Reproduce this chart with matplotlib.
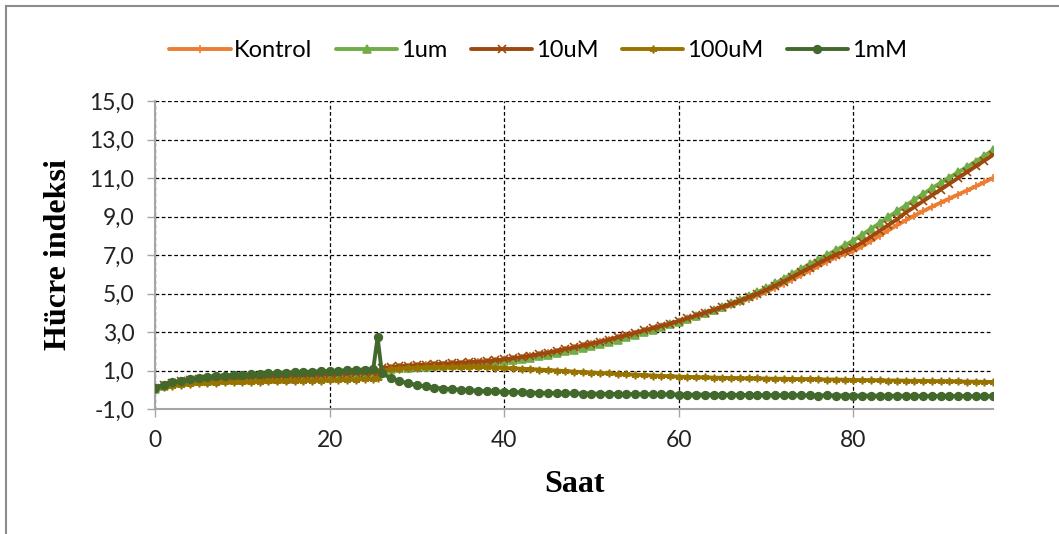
import matplotlib
matplotlib.use("Agg")
import matplotlib.pyplot as plt
from matplotlib.lines import Line2D

# ---- data ----
hours = list(range(0, 26)) + [25.5] + list(range(26, 97))

kontrol = [0.08,0.22,0.33,0.41,0.47,0.51,0.54,0.56,0.58,0.60,0.61,0.62,0.63,0.65,0.66,0.67,0.68,0.70,0.71,0.72,
           0.74,0.76,0.78,0.80,0.82,0.84,0.86,1.07,1.13,1.17,1.20,1.23,1.26,1.28,1.31,1.34,1.36,1.39,1.42,1.45,
           1.49,1.54,1.60,1.66,1.73,1.81,1.89,1.98,2.07,2.16,2.26,2.36,2.46,2.57,2.68,2.80,2.92,3.04,3.16,3.28,
           3.40,3.53,3.66,3.80,3.94,4.08,4.23,4.38,4.54,4.71,4.89,5.08,5.29,5.50,5.72,5.95,6.18,6.42,6.66,6.88,
           7.05,7.20,7.45,7.72,8.00,8.28,8.55,8.80,9.05,9.28,9.50,9.72,9.93,10.14,10.35,10.56,10.78,11.00]

um1 = [0.05,0.18,0.28,0.35,0.40,0.44,0.46,0.48,0.50,0.51,0.52,0.53,0.54,0.55,0.56,0.57,0.58,0.59,0.60,0.61,
       0.62,0.64,0.66,0.68,0.70,0.72,0.74,1.02,1.08,1.12,1.15,1.18,1.20,1.23,1.25,1.28,1.30,1.33,1.36,1.39,
       1.43,1.47,1.53,1.59,1.66,1.73,1.81,1.90,1.99,2.08,2.18,2.28,2.38,2.49,2.61,2.73,2.86,2.99,3.12,3.25,
       3.39,3.53,3.68,3.84,4.00,4.16,4.32,4.49,4.67,4.86,5.06,5.28,5.52,5.76,6.01,6.27,6.52,6.76,7.00,7.25,
       7.50,7.75,8.05,8.35,8.65,8.97,9.27,9.57,9.87,10.17,10.47,10.75,11.02,11.30,11.57,11.85,12.15,12.45]

um10 = [0.10,0.25,0.36,0.44,0.50,0.54,0.57,0.60,0.62,0.64,0.65,0.67,0.68,0.70,0.71,0.72,0.74,0.75,0.77,0.78,
        0.80,0.82,0.84,0.86,0.88,0.90,0.92,1.12,1.18,1.22,1.25,1.28,1.30,1.33,1.35,1.38,1.40,1.43,1.46,1.49,
        1.53,1.58,1.64,1.70,1.77,1.85,1.93,2.02,2.11,2.20,2.30,2.40,2.50,2.61,2.72,2.84,2.96,3.08,3.20,3.32,
        3.44,3.57,3.71,3.86,4.01,4.15,4.30,4.45,4.62,4.80,4.98,5.18,5.40,5.62,5.85,6.10,6.33,6.56,6.80,7.02,
        7.20,7.38,7.65,7.95,8.25,8.55,8.85,9.20,9.50,9.80,10.10,10.40,10.70,11.00,11.30,11.60,11.90,12.20]

um100 = [0.05,0.14,0.21,0.26,0.30,0.33,0.35,0.37,0.38,0.39,0.40,0.41,0.42,0.43,0.43,0.44,0.45,0.46,0.47,0.48,
         0.49,0.50,0.52,0.53,0.55,0.57,0.62,0.98,1.06,1.10,1.13,1.15,1.16,1.17,1.18,1.19,1.19,1.19,1.18,1.17,
         1.15,1.13,1.11,1.09,1.07,1.05,1.02,1.00,0.97,0.94,0.92,0.89,0.87,0.85,0.82,0.80,0.78,0.76,0.74,0.72,
         0.70,0.68,0.67,0.65,0.64,0.63,0.62,0.61,0.60,0.59,0.59,0.58,0.57,0.57,0.56,0.55,0.55,0.54,0.53,0.53,
         0.52,0.51,0.50,0.50,0.49,0.48,0.48,0.47,0.46,0.46,0.45,0.44,0.44,0.43,0.42,0.42,0.41,0.40]

mM1 = [0.10,0.25,0.38,0.48,0.56,0.62,0.67,0.71,0.74,0.77,0.79,0.81,0.83,0.85,0.87,0.89,0.91,0.92,0.94,0.96,
       0.97,0.99,1.01,1.03,1.05,1.07,2.72,0.85,0.62,0.45,0.33,0.24,0.17,0.11,0.06,0.03,0.00,-0.03,-0.05,-0.07,
       -0.09,-0.11,-0.12,-0.14,-0.15,-0.16,-0.17,-0.18,-0.18,-0.19,-0.20,-0.20,-0.21,-0.21,-0.22,-0.22,-0.23,-0.23,-0.24,-0.24,
       -0.24,-0.25,-0.25,-0.26,-0.25,-0.26,-0.27,-0.26,-0.27,-0.27,-0.28,-0.28,-0.28,-0.29,-0.28,-0.29,-0.29,-0.30,-0.29,-0.30,
       -0.30,-0.31,-0.30,-0.31,-0.31,-0.32,-0.31,-0.32,-0.32,-0.32,-0.33,-0.32,-0.33,-0.33,-0.33,-0.34,-0.33,-0.34]

series_names = ["Kontrol", "1um", "10uM", "100uM", "1mM"]
series_values = [kontrol, um1, um10, um100, mM1]
colors = ["#ED7D31", "#70AD47", "#9E480E", "#997300", "#43682B"]
markers = ["+", "^", "x", (6, 2, 0), "o"]

x_ticks = [0, 20, 40, 60, 80]
y_ticks = [-1, 1, 3, 5, 7, 9, 11, 13, 15]

# ---- figure ----
fig = plt.figure(figsize=(10.59, 5.34), dpi=100)
ax = fig.add_axes([155/1059, 1 - 409/534, (993 - 155)/1059, (409 - 101)/534])

for name, vals, c, m in zip(series_names, series_values, colors, markers):
    ax.plot(hours, vals, color=c, lw=2.8, marker=m, markersize=5.5,
            markeredgewidth=1.2, markerfacecolor=c, markeredgecolor=c,
            label=name, zorder=3, solid_capstyle="round")

ax.set_xlim(0, 96)
ax.set_ylim(-1, 15)
ax.set_xticks(x_ticks)
ax.set_yticks(y_ticks)
ax.set_yticklabels([f"{v:.1f}".replace(".", ",") for v in y_ticks])

for lab in ax.get_xticklabels() + ax.get_yticklabels():
    lab.set_fontfamily("Lato")
    lab.set_fontsize(16.5)
    lab.set_color("#222222")

ax.grid(True, color="black", linestyle=(0, (3, 2)), linewidth=0.9, zorder=1)
for s in ["top", "right"]:
    ax.spines[s].set_visible(False)
for s in ["left", "bottom"]:
    ax.spines[s].set_color("#A6A6A6")
    ax.spines[s].set_linewidth(1.5)
ax.tick_params(axis="both", direction="out", length=6, color="#A6A6A6", width=1)
ax.tick_params(axis="x", pad=9)
ax.tick_params(axis="y", pad=9)

ax.set_xlabel("Saat", family="Liberation Serif", fontweight="bold", fontsize=23, labelpad=14)
ax.set_ylabel("Hücre indeksi", family="Liberation Serif", fontweight="bold", fontsize=23, labelpad=12)

leg = fig.legend(loc="upper center", bbox_to_anchor=(0.508, 0.965), ncol=5, frameon=False,
                 prop={"family": "Lato", "size": 17}, handlelength=2.6, columnspacing=1.0,
                 handletextpad=0.15, numpoints=1)

# outer frame (partially cropped in the reference)
fig.add_artist(Line2D([6/1059, 6/1059], [0, 1 - 6/534], transform=fig.transFigure,
                      color="#8C8C8C", lw=1.5))
fig.add_artist(Line2D([6/1059, 1], [1 - 6/534, 1 - 6/534], transform=fig.transFigure,
                      color="#8C8C8C", lw=1.5))

fig.savefig("out.png", dpi=100)
